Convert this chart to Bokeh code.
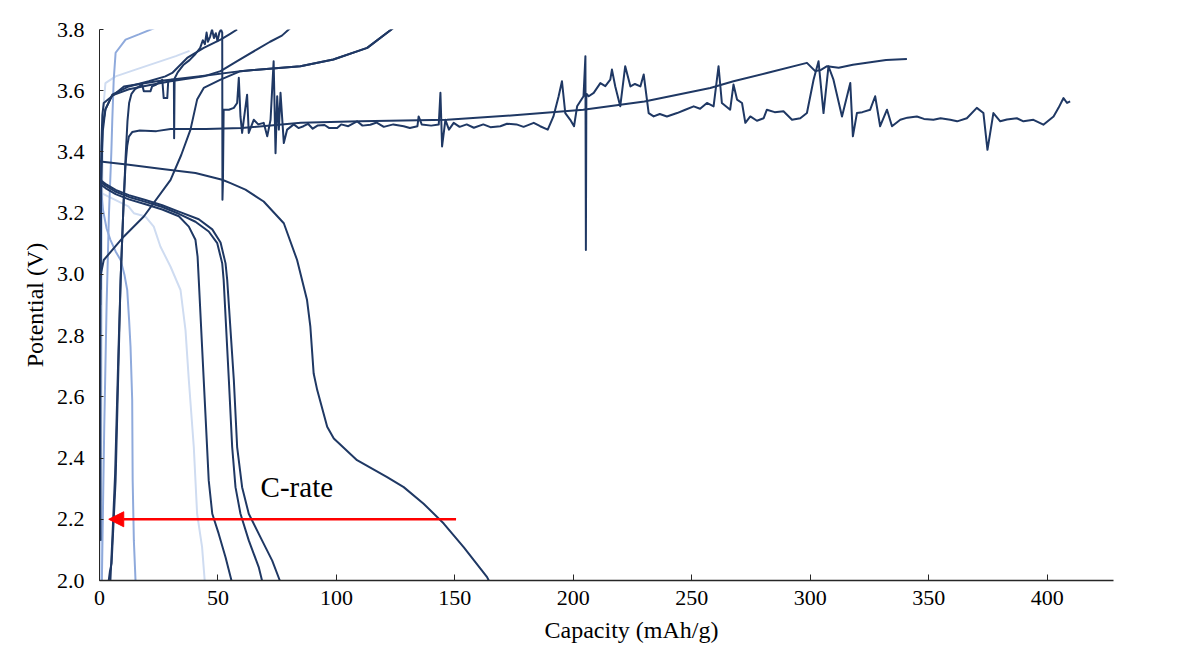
from bokeh.plotting import figure
from bokeh.models import FixedTicker, NumeralTickFormatter, Arrow, NormalHead, Label, Title
from bokeh.embed import file_html
from bokeh.resources import INLINE

# ---------------- data (capacity mAh/g, potential V) ----------------
# discharge curves
d1_cap = [0.0, 0.4, 12.4, 26.5, 40.5, 51.8, 55.3, 61.6, 69.3, 77.8, 83.4, 87.6, 89.0, 90.4, 91.9, 96.1, 98.9, 108.7, 121.4, 128.4, 136.8, 145.3, 153.7, 163.6, 164.3]
d1_v = [3.372, 3.369, 3.358, 3.344, 3.331, 3.309, 3.298, 3.277, 3.238, 3.167, 3.047, 2.916, 2.829, 2.676, 2.622, 2.502, 2.464, 2.393, 2.338, 2.305, 2.251, 2.186, 2.109, 2.011, 2.0]

d2_cap = [0.0, 0.8, 2.5, 6.8, 12.4, 19.4, 26.5, 33.5, 37.7, 40.5, 41.4, 41.9, 43.3, 44.7, 46.1, 47.6, 50.3, 53.2, 55.7]
d2_v = [3.32, 3.292, 3.282, 3.262, 3.245, 3.229, 3.212, 3.190, 3.156, 3.113, 3.058, 2.982, 2.763, 2.546, 2.327, 2.218, 2.153, 2.076, 2.0]

d3_cap = [0.0, 0.8, 2.5, 6.8, 12.4, 19.4, 26.5, 33.5, 40.5, 46.1, 49.7, 51.8, 52.4, 54.6, 56.0, 57.4, 59.5, 63.0, 67.2, 68.6]
d3_v = [3.325, 3.300, 3.290, 3.270, 3.253, 3.237, 3.220, 3.198, 3.172, 3.140, 3.102, 3.036, 2.982, 2.655, 2.436, 2.305, 2.218, 2.131, 2.044, 2.0]

d4_cap = [0.0, 0.8, 2.5, 6.8, 12.4, 19.4, 26.5, 33.5, 41.9, 47.6, 51.1, 53.2, 53.9, 56.7, 58.1, 60.2, 63.0, 68.6, 72.9, 76.1]
d4_v = [3.33, 3.306, 3.296, 3.276, 3.259, 3.243, 3.226, 3.205, 3.180, 3.147, 3.104, 3.036, 2.982, 2.655, 2.436, 2.305, 2.218, 2.131, 2.065, 2.0]

d5_cap = [0.0, 0.15, 0.3, 0.4, 0.45]
d5_v = [3.32, 3.1, 2.7, 2.3, 2.13]

l1_cap = [0.0, 1.1, 3.8, 12.2, 14.5, 19.4, 22.9, 25.7, 30.0, 34.2, 36.3, 37.7, 39.8, 41.2, 43.3, 44.4]
l1_v = [3.29, 3.265, 3.254, 3.222, 3.20, 3.189, 3.156, 3.091, 3.025, 2.949, 2.818, 2.655, 2.436, 2.218, 2.109, 2.0]

l2_cap = [0.2, 0.6, 1.5, 3.0, 4.6, 6.8, 8.9, 10.5, 11.7, 12.5, 13.1, 13.8, 14.0, 14.5, 15.2]
l2_v = [3.34, 3.28, 3.21, 3.15, 3.113, 3.075, 3.047, 3.0, 2.949, 2.85, 2.763, 2.589, 2.327, 2.131, 2.0]

l3_cap = [0.2, 0.5, 0.7, 0.9]
l3_v = [3.28, 2.9, 2.4, 2.0]

# charge curves
ca_cap = [0.2, 0.3, 0.5, 0.8, 1.4, 2.5, 5.4, 12.4, 20.8, 27.8, 30.7, 37.0, 44.0, 51.1, 55.0, 58.1]
ca_v = [2.13, 2.6, 3.1, 3.35, 3.47, 3.538, 3.587, 3.614, 3.631, 3.647, 3.658, 3.707, 3.74, 3.767, 3.785, 3.80]

cb_cap = [0.4, 0.7, 1.2, 2.5, 5.4, 12.4, 20.8, 30.0, 44.0, 51.1, 58.1, 66.5, 72.0, 77.0, 80.6]
cb_v = [2.95, 3.3, 3.48, 3.54, 3.585, 3.605, 3.618, 3.631, 3.647, 3.664, 3.697, 3.735, 3.76, 3.78, 3.805]

cc_cap = [0.3, 0.5, 0.8, 1.2, 1.8, 10.3, 24.3, 42.6, 59.5, 84.8, 98.7, 113.0, 124.2]
cc_v = [2.9, 3.2, 3.42, 3.52, 3.56, 3.614, 3.631, 3.647, 3.664, 3.68, 3.702, 3.74, 3.806]

cs_cap = [0.0, 1.8, 10.3, 18.7, 30.0, 34.5, 38.4, 41.2, 44.0, 51.1, 59.5, 84.8, 98.7, 113.0, 124.2]
cs_v = [2.98, 3.047, 3.124, 3.189, 3.309, 3.39, 3.473, 3.571, 3.609, 3.636, 3.664, 3.68, 3.702, 3.74, 3.806]

clong_cap = [3.9, 4.4, 5.1, 6.8, 8.2, 8.9, 9.6, 10.2, 11.0, 11.7, 12.4, 13.8, 17.0, 24.0, 30.0, 45.0, 60.0, 85.0, 110.0, 146.7, 175.0, 204.2, 230.0, 257.8, 267.6, 281.7, 298.6, 302.1, 304.5, 307.1, 312.0, 318.0, 323.9, 332.0, 340.8]
clong_v = [2.0, 2.03, 2.056, 2.327, 2.763, 2.98, 3.12, 3.24, 3.36, 3.42, 3.45, 3.465, 3.47, 3.468, 3.475, 3.475, 3.478, 3.495, 3.50, 3.505, 3.52, 3.538, 3.565, 3.609, 3.631, 3.658, 3.691, 3.664, 3.668, 3.68, 3.675, 3.685, 3.691, 3.70, 3.704]

cn_cap = [4.6, 5.5, 6.6, 8.0, 9.0, 10.0, 11.0, 11.8, 12.5, 13.5, 15.0, 18.0, 18.7, 21.5, 22.2, 24.0, 26.5, 27.1, 28.6, 29.0, 30.5, 31.4, 31.5, 31.7, 33.0, 35.5, 38.0, 40.5, 42.5, 43.6, 44.5, 45.2, 45.8, 46.7, 47.5, 48.3, 49.1, 49.8, 50.6, 51.3, 51.8, 51.9, 52.1, 52.4,
          54.6, 56.7, 58.1, 58.8, 59.5, 60.2, 60.9, 62.3, 63.0, 65.1, 67.0, 69.3, 70.8, 72.2, 73.5, 74.3, 75.0, 75.7, 76.4, 77.8, 79.2, 82.0, 84.0, 86.1, 88.0, 90.0, 92.0, 95.0, 97.0, 100.3, 102.0, 105.0, 108.7, 111.0, 114.3, 117.0, 120.0, 124.0, 128.4, 131.0, 134.2, 134.7, 136.0, 140.0, 143.2, 143.9, 144.6, 146.0, 147.5, 149.5, 152.0, 155.0, 158.0, 162.0, 165.0, 169.2, 172.0, 176.0, 179.0, 183.3, 186.0, 189.2, 191.6, 193.8, 195.2, 196.6, 198.7, 200.3, 201.6, 204.3, 205.1, 205.3, 205.5, 206.5, 208.6, 211.4, 213.5, 215.6, 216.3, 217.7, 219.8, 221.9, 224.1, 226.0, 228.3, 229.7, 231.8, 233.9, 236.5, 239.5, 243.8, 247.0, 250.8, 253.5, 256.4, 259.2,
          261.3, 262.7, 266.2, 267.6, 269.1, 271.2, 272.6, 274.7, 277.5, 280.3, 281.7, 285.0, 288.7, 292.3, 295.8, 298.6, 301.4, 303.5, 305.6, 307.7, 309.8, 313.4, 316.9, 318.0, 319.7, 322.0, 325.3, 327.4, 329.5, 332.4, 334.5, 338.0, 341.0, 345.0, 348.0, 352.0, 355.0, 359.1, 362.0, 366.1, 370.3, 373.1, 374.8, 377.3, 380.2, 383.0, 387.2, 390.0, 394.2, 398.4, 402.7, 404.8, 406.9, 408.4, 409.7]
cn_v = [2.0, 2.15, 2.35, 2.75, 3.0, 3.2, 3.38, 3.50, 3.56, 3.59, 3.605, 3.62, 3.598, 3.598, 3.614, 3.62, 3.636, 3.576, 3.576, 3.63, 3.636, 3.636, 3.445, 3.64, 3.66, 3.685, 3.70, 3.72, 3.74, 3.765, 3.752, 3.79, 3.76, 3.777, 3.80, 3.772, 3.788, 3.762, 3.79, 3.80, 3.79, 3.244, 3.30, 3.538,
        3.538, 3.544, 3.56, 3.642, 3.516, 3.462, 3.505, 3.587, 3.462, 3.505, 3.49, 3.495, 3.451, 3.505, 3.696, 3.396, 3.582, 3.473, 3.593, 3.429, 3.473, 3.49, 3.478, 3.484, 3.492, 3.476, 3.486, 3.488, 3.478, 3.478, 3.49, 3.484, 3.50, 3.486, 3.489, 3.496, 3.482, 3.49, 3.484, 3.478, 3.484, 3.516, 3.49, 3.486, 3.49, 3.593, 3.418, 3.505, 3.473, 3.495, 3.482, 3.49, 3.479, 3.49, 3.481, 3.484, 3.492, 3.49, 3.482, 3.495, 3.484, 3.473, 3.516, 3.582, 3.631, 3.527, 3.505, 3.484, 3.549, 3.582, 3.713, 3.08, 3.59, 3.582, 3.593, 3.625, 3.615, 3.636, 3.669, 3.614, 3.549, 3.68, 3.614, 3.622, 3.614, 3.653, 3.527, 3.516, 3.524, 3.516, 3.527, 3.537, 3.549, 3.541, 3.56, 3.549,
        3.68, 3.56, 3.538, 3.62, 3.571, 3.56, 3.495, 3.516, 3.502, 3.51, 3.538, 3.53, 3.533, 3.505, 3.51, 3.527, 3.636, 3.696, 3.527, 3.68, 3.636, 3.516, 3.625, 3.451, 3.527, 3.53, 3.538, 3.582, 3.484, 3.538, 3.484, 3.505, 3.512, 3.516, 3.508, 3.505, 3.51, 3.505, 3.50, 3.51, 3.544, 3.527, 3.407, 3.527, 3.50, 3.506, 3.51, 3.50, 3.505, 3.489, 3.516, 3.544, 3.576, 3.56, 3.565]

lc1_cap = [0.6, 0.8, 1.0, 1.3, 1.8, 2.5, 6.8, 15.2, 23.7, 32.2, 38.0]
lc1_v = [2.0, 2.6, 3.1, 3.4, 3.56, 3.625, 3.647, 3.669, 3.691, 3.713, 3.73]

lc2_cap = [1.0, 2.0, 3.0, 4.0, 5.0, 5.4, 6.0, 6.8, 11.0, 16.6, 23.6]
lc2_v = [2.0, 2.5, 2.9, 3.2, 3.4, 3.505, 3.636, 3.724, 3.767, 3.784, 3.806]

x_ticks = [0, 50, 100, 150, 200, 250, 300, 350, 400]
y_ticks = [2.0, 2.2, 2.4, 2.6, 2.8, 3.0, 3.2, 3.4, 3.6, 3.8]

# annotation positions (data units)
arrow_x_start, arrow_x_end, arrow_y = 150.5, 3.9, 2.2
crate_x, crate_y = 68.0, 2.304

DARK = "#1f3864"
MED = "#8faadc"
LIGHT = "#cfdcf1"
FONT = "Liberation Serif"

p = figure(width=1180, height=664, x_range=(0, 428), y_range=(2.0, 3.8),
           output_backend="svg", toolbar_location=None,
           min_border_left=99, min_border_right=67, min_border_top=29, min_border_bottom=84)
p.outline_line_color = None
p.xgrid.grid_line_color = None
p.ygrid.grid_line_color = None
p.background_fill_color = "white"
p.border_fill_color = "white"

# light curves first
for xs, ys, c in [(l1_cap, l1_v, LIGHT), (lc1_cap, lc1_v, LIGHT), (l3_cap, l3_v, LIGHT),
                  (l2_cap, l2_v, MED), (lc2_cap, lc2_v, MED)]:
    p.line(xs, ys, line_color=c, line_width=2)

for xs, ys in [(d1_cap, d1_v), (d2_cap, d2_v), (d3_cap, d3_v), (d4_cap, d4_v), (d5_cap, d5_v),
               (ca_cap, ca_v), (cb_cap, cb_v), (cc_cap, cc_v), (cs_cap, cs_v),
               (clong_cap, clong_v), (cn_cap, cn_v)]:
    p.line(xs, ys, line_color=DARK, line_width=2, line_join="round")

p.add_layout(Arrow(end=NormalHead(size=15, fill_color="#ff0000", line_color="#ff0000"),
                   x_start=arrow_x_start, y_start=arrow_y, x_end=arrow_x_end, y_end=arrow_y,
                   line_color="#ff0000", line_width=2.5))
p.add_layout(Label(x=crate_x, y=crate_y, text="C-rate", text_font=FONT, text_font_size="29px",
                   text_baseline="middle", text_color="#000000"))

p.xaxis.ticker = FixedTicker(ticks=x_ticks)
p.yaxis.ticker = FixedTicker(ticks=y_ticks)
p.yaxis.formatter = NumeralTickFormatter(format="0.0")
p.yaxis.axis_label = "Potential (V)"
for ax in (p.xaxis, p.yaxis):
    ax.axis_label_text_font = FONT
    ax.axis_label_text_font_size = "24px"
    ax.axis_label_text_font_style = "normal"
    ax.axis_label_text_color = "#000000"
    ax.major_label_text_font = FONT
    ax.major_label_text_font_size = "22px"
    ax.major_label_text_color = "#000000"
    ax.minor_tick_line_color = None
    ax.major_tick_out = 0
    ax.axis_line_color = "#262626"
    ax.major_tick_line_color = "#262626"
p.xaxis.major_tick_in = 6
p.yaxis.major_tick_in = 4
p.xaxis.axis_line_width = 1.5
p.xaxis.major_label_standoff = 10
p.yaxis.major_label_standoff = 15
p.yaxis.axis_label_standoff = 6

xtitle = Title(text="Capacity (mAh/g)", align="left", offset=445, standoff=15,
               text_font=FONT, text_font_size="24px", text_font_style="normal",
               text_color="#000000")
p.add_layout(xtitle, "below")

open("out.html", "w").write(file_html(p, INLINE))
